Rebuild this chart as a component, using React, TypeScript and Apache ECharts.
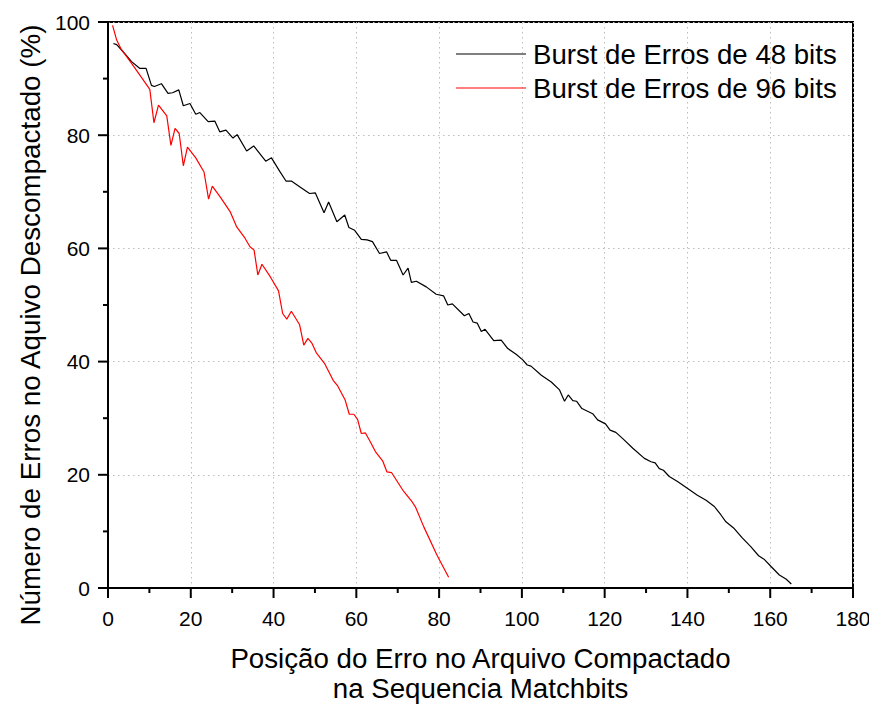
import React, { useEffect, useRef } from "react";
import * as echarts from "echarts";

const xTitle = "Posição do Erro no Arquivo Compactado\nna Sequencia Matchbits";
const yTitle = "Número de Erros no Aquivo Descompactado (%)";
const seriesNames = ["Burst de Erros de 48 bits", "Burst de Erros de 96 bits"];

const burst48X = [1.3, 2.1, 3.7, 5.7, 7.7, 9.2, 10.5, 11.2, 12.9, 14.5, 15.6, 17.1, 18.2, 19.8, 21.2, 22.2, 24.2, 25.8, 27.0, 28.5, 30.2, 31.2, 33.5, 35.2, 38.1, 39.5, 41.5, 43.0, 44.3, 46.3, 48.7, 50.1, 52.2, 53.3, 55.3, 57.2, 58.2, 59.6, 61.2, 62.6, 63.9, 65.6, 67.3, 68.3, 69.7, 71.3, 72.5, 73.3, 74.5, 76.9, 79.3, 81.1, 82.1, 83.2, 86.1, 87.2, 88.2, 89.2, 90.2, 91.1, 93.2, 95.0, 96.6, 98.6, 100.2, 101.3, 102.2, 104.7, 107.1, 109.1, 110.3, 111.2, 112.3, 113.2, 114.5, 117.1, 118.3, 120.2, 121.3, 122.7, 124.5, 126.8, 129.6, 131.2, 132.2, 133.2, 134.2, 135.6, 137.6, 140.4, 142.4, 144.5, 146.5, 148.1, 149.3, 151.3, 153.3, 155.3, 157.2, 158.5, 160.2, 162.2, 163.8, 165.1];
const burst48Y = [96.2, 96.0, 94.7, 93.0, 91.8, 91.8, 88.8, 88.6, 89.1, 87.4, 87.5, 88.0, 85.2, 85.6, 83.7, 84.0, 82.4, 82.5, 80.6, 80.9, 79.5, 80.1, 77.2, 78.1, 75.4, 76.0, 73.6, 71.9, 71.9, 70.9, 69.7, 69.8, 66.3, 68.2, 64.7, 65.9, 63.7, 63.2, 61.6, 61.5, 61.2, 59.1, 59.4, 57.9, 57.9, 55.3, 56.5, 54.0, 54.2, 53.2, 51.9, 51.6, 50.0, 50.2, 48.1, 48.5, 47.0, 46.8, 45.3, 45.7, 43.7, 43.8, 42.3, 41.3, 40.3, 39.4, 39.2, 37.6, 36.4, 35.0, 33.0, 34.1, 33.1, 33.0, 31.7, 30.8, 29.7, 29.0, 27.9, 27.5, 26.3, 24.7, 22.9, 22.3, 22.1, 21.1, 20.8, 19.7, 18.8, 17.4, 16.4, 15.5, 14.4, 12.9, 11.7, 10.5, 8.8, 7.3, 5.7, 5.1, 3.8, 2.3, 1.6, 0.7];

const burst96X = [1.1, 2.1, 3.1, 5.7, 7.7, 10.1, 11.1, 12.2, 14.2, 15.2, 16.2, 17.2, 18.2, 19.2, 21.2, 23.2, 24.3, 25.2, 27.1, 29.5, 31.1, 33.1, 34.3, 35.3, 36.2, 37.2, 39.2, 41.2, 42.2, 43.2, 44.3, 46.3, 47.3, 48.3, 49.3, 50.3, 52.3, 54.4, 55.5, 57.3, 58.3, 59.4, 60.3, 61.2, 62.2, 63.4, 64.6, 66.4, 67.4, 68.5, 71.4, 73.5, 74.3, 76.3, 79.5, 82.3];
const burst96Y = [99.4, 96.8, 95.3, 92.7, 90.6, 88.1, 82.2, 85.3, 83.4, 78.2, 81.2, 80.3, 74.6, 77.9, 76.0, 73.5, 68.7, 71.0, 69.1, 66.5, 63.8, 61.8, 60.3, 59.7, 55.3, 57.2, 55.0, 52.5, 48.5, 47.5, 48.9, 46.5, 42.9, 44.1, 43.2, 41.6, 39.7, 36.7, 35.7, 33.2, 30.7, 30.7, 29.8, 27.3, 27.4, 25.8, 24.1, 22.4, 20.5, 20.4, 17.1, 15.2, 14.3, 10.8, 5.8, 1.9];

const xMajorTicks = [0, 20, 40, 60, 80, 100, 120, 140, 160, 180];
const xMinorTicks = [10, 30, 50, 70, 90, 110, 130, 150, 170];
const yMajorTicks = [0, 20, 40, 60, 80, 100];
const yMinorTicks = [10, 30, 50, 70, 90];

const FONT = "Liberation Sans, Arial, sans-serif";

export default function App() {
  const ref = useRef<HTMLDivElement>(null);
  useEffect(() => {
    if (!ref.current) return;
    const chart = echarts.init(ref.current, undefined, { renderer: "svg" });
    const pair = (xs: number[], ys: number[]) => xs.map((x, i) => [x, ys[i]]);
    const gridLine = () => ({ show: true, lineStyle: { color: "#bdbdbd", type: [1.5, 3.5], width: 1 } });
    chart.setOption({
      animation: false,
      backgroundColor: "#fff",
      textStyle: { fontFamily: FONT },
      grid: {
        left: 100,
        top: 14,
        width: 745,
        height: 566,
        outerBoundsMode: "none",
        containLabel: false,
        show: true,
        borderColor: "#000",
        borderWidth: 2,
        backgroundColor: "transparent",
      },
      legend: {
        orient: "vertical",
        left: 443,
        top: 24,
        icon: "rect",
        itemWidth: 70,
        itemHeight: 1.2,
        itemGap: 0,
        textStyle: { fontSize: 27.6, color: "#000", fontFamily: FONT, lineHeight: 34, padding: [0, 0, 0, 2] },
        data: seriesNames,
      },
      xAxis: {
        type: "value",
        min: 0,
        max: 180,
        interval: 20,
        name: xTitle,
        nameLocation: "middle",
        nameGap: 55,
        nameTextStyle: { fontSize: 27.7, color: "#000", lineHeight: 30, fontFamily: FONT },
        axisLine: { show: true, onZero: false, lineStyle: { color: "#000", width: 2 } },
        axisTick: { show: false },
        minorTick: { show: false },
        axisLabel: { fontSize: 21, color: "#000", margin: 20, fontFamily: FONT, backgroundColor: "transparent", textBorderWidth: 0 },
        splitLine: gridLine(),
      },
      yAxis: {
        type: "value",
        min: 0,
        max: 100,
        interval: 20,
        name: yTitle,
        nameLocation: "middle",
        nameGap: 62,
        nameTextStyle: { fontSize: 27.8, color: "#000", fontFamily: FONT, padding: [0, 40, 0, 0] },
        axisLine: { show: true, onZero: false, lineStyle: { color: "#000", width: 2 } },
        axisTick: { show: false },
        minorTick: { show: false },
        axisLabel: { fontSize: 21, color: "#000", margin: 18, fontFamily: FONT, backgroundColor: "transparent", textBorderWidth: 0 },
        splitLine: gridLine(),
      },
      series: [
        {
          name: seriesNames[0],
          type: "line",
          data: pair(burst48X, burst48Y),
          symbol: "none",
          lineStyle: { color: "#000", width: 1.2 },
          itemStyle: { color: "#000" },
        },
        {
          name: seriesNames[1],
          type: "line",
          data: pair(burst96X, burst96Y),
          symbol: "none",
          lineStyle: { color: "#ff0000", width: 1.2 },
          itemStyle: { color: "#ff0000" },
        },
      ],
    });

    const x0 = chart.convertToPixel({ xAxisIndex: 0 }, 0) as number;
    const y0 = chart.convertToPixel({ yAxisIndex: 0 }, 0) as number;
    const ticks: any[] = [];
    const addX = (vals: number[], len: number) =>
      vals.forEach((v) => {
        const px = chart.convertToPixel({ xAxisIndex: 0 }, v) as number;
        ticks.push({
          type: "rect",
          silent: true,
          z: 100,
          zlevel: 1,
          shape: { x: px - 1, y: y0, width: 2, height: len },
          style: { fill: "#000" },
        });
      });
    const addY = (vals: number[], len: number) =>
      vals.forEach((v) => {
        const py = chart.convertToPixel({ yAxisIndex: 0 }, v) as number;
        ticks.push({
          type: "rect",
          silent: true,
          z: 100,
          zlevel: 1,
          shape: { x: x0 - len, y: py - 1, width: len, height: 2 },
          style: { fill: "#000" },
        });
      });
    addX(xMajorTicks, 10);
    addX(xMinorTicks, 5);
    addY(yMajorTicks, 10);
    addY(yMinorTicks, 5);
    chart.setOption({ graphic: { zlevel: 1, z: 100, elements: ticks } });

    return () => chart.dispose();
  }, []);
  return <div ref={ref} style={{ width: 869, height: 697 }} />;
}
